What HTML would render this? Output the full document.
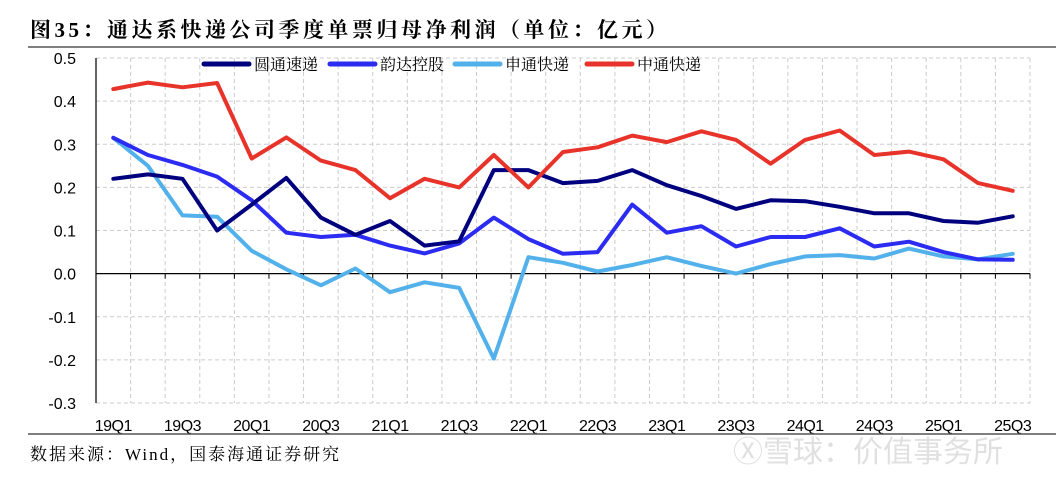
<!DOCTYPE html>
<html><head><meta charset="utf-8"><style>
body{margin:0;background:#fff;width:1056px;height:479px;overflow:hidden}
svg{display:block}
</style></head><body>
<svg id="chart" width="1056" height="479" xmlns="http://www.w3.org/2000/svg">
<text x="30" y="37" font-family="Liberation Serif, Noto Serif CJK SC, serif" font-size="21" font-weight="bold" letter-spacing="3.5" fill="#000">图35：通达系快递公司季度单票归母净利润（单位：亿元）</text>
<line x1="28" y1="47" x2="1056" y2="47" stroke="#555" stroke-width="1.5"/>
<g id="grid"></g>
<g id="axes"></g>
<g id="series"></g>
<g id="legend"></g>
<line x1="28" y1="434" x2="1056" y2="434" stroke="#555" stroke-width="1.5"/>
<text x="30" y="460" font-family="Liberation Serif, Noto Serif CJK SC, serif" font-size="17" letter-spacing="2" fill="#000">数据来源：Wind，国泰海通证券研究</text>
<text x="733" y="462" font-family="Liberation Sans, Noto Sans CJK SC, sans-serif" font-size="30" fill="#ddd" opacity="0.9">Ⓧ雪球：价值事务所</text>
</svg>
<script>
const categories=['19Q1','19Q2','19Q3','19Q4','20Q1','20Q2','20Q3','20Q4','21Q1','21Q2','21Q3','21Q4','22Q1','22Q2','22Q3','22Q4','23Q1','23Q2','23Q3','23Q4','24Q1','24Q2','24Q3','24Q4','25Q1','25Q2','25Q3'];
const yto=[0.22,0.23,0.22,0.10,0.16,0.222,0.13,0.09,0.122,0.065,0.075,0.24,0.24,0.21,0.215,0.24,0.205,0.18,0.15,0.17,0.168,0.155,0.14,0.14,0.122,0.118,0.133];
const yunda=[0.315,0.275,0.252,0.225,0.17,0.095,0.085,0.09,0.065,0.047,0.07,0.13,0.08,0.046,0.05,0.16,0.095,0.11,0.063,0.085,0.085,0.105,0.063,0.074,0.05,0.033,0.032];
const sto=[0.315,0.25,0.135,0.132,0.053,0.01,-0.027,0.012,-0.043,-0.02,-0.033,-0.197,0.038,0.025,0.005,0.02,0.038,0.018,0,0.022,0.04,0.043,0.035,0.058,0.04,0.033,0.046];
const zto=[0.428,0.443,0.432,0.442,0.267,0.316,0.262,0.24,0.175,0.22,0.2,0.275,0.2,0.282,0.293,0.32,0.305,0.33,0.31,0.255,0.31,0.332,0.275,0.283,0.265,0.21,0.192];
const yTicks=[0.5,0.4,0.3,0.2,0.1,0.0,-0.1,-0.2,-0.3];
const yTickLabels=['0.5','0.4','0.3','0.2','0.1','0.0','-0.1','-0.2','-0.3'];
const seriesNames=['圆通速递','韵达控股','申通快递','中通快递'];
const NS='http://www.w3.org/2000/svg';
const L=96,R=1030,T=58,B=403,yMin=-0.3,yMax=0.5;
const band=(R-L)/categories.length;
const x=i=>L+band*(i+0.5);
const y=v=>B-(v-yMin)/(yMax-yMin)*(B-T);
function mk(tag,attrs,parent){const e=document.createElementNS(NS,tag);for(const k in attrs)e.setAttribute(k,attrs[k]);parent.appendChild(e);return e;}
const grid=document.getElementById('grid'),axes=document.getElementById('axes'),ser=document.getElementById('series'),leg=document.getElementById('legend');
yTicks.forEach((v,i)=>{
  if(v!==0){const g=mk('line',{x1:L,x2:R,y1:y(v),y2:y(v),stroke:'#ccc','stroke-dasharray':'4,3'},grid);
  
  }
  const t=mk('text',{x:L-20,y:y(v)+6,'text-anchor':'end','font-family':'Liberation Sans, sans-serif','font-size':'16',fill:'#000'},axes);
  
  
  t.textContent=yTickLabels[i];
});
for(let i=1;i<=categories.length;i++){
  const xx=L+band*i;
  const g=mk('line',{x1:xx,x2:xx,y1:T,y2:B,stroke:'#ccc','stroke-dasharray':'4,3'},grid);
  
  
  const tk=mk('line',{x1:xx,x2:xx,y1:y(0),y2:y(0)+5,stroke:'#000','stroke-width':1},axes);
  
  
}
const ya=mk('line',{x1:L,x2:L,y1:T,y2:B,stroke:'#000','stroke-width':1.2},axes);


const xa=mk('line',{x1:L,x2:R,y1:y(0),y2:y(0),stroke:'#000','stroke-width':1.2},axes);


categories.forEach((c,i)=>{ if(i%2===0){
  const t=mk('text',{x:x(i),y:431,'text-anchor':'middle','font-family':'Liberation Sans, sans-serif','font-size':'16',fill:'#000','letter-spacing':'-0.5'},axes);
  
  
  t.textContent=c;}
});
const colors=['#00007f','#2b2bf2','#52b1ea','#e8332a'];
const data=[yto,yunda,sto,zto];
[2,1,0,3].forEach(s=>{
  const d=data[s].map((v,i)=>(i?'L':'M')+x(i).toFixed(1)+','+y(v).toFixed(1)).join('');
  const p=mk('path',{d:d,fill:'none',stroke:colors[s],'stroke-width':4,'stroke-linejoin':'round','stroke-linecap':'round'},ser);
  
  
});
const legX=[204,330,455,587];
seriesNames.forEach((n,i)=>{
  const l=mk('line',{x1:legX[i],x2:legX[i]+45,y1:64,y2:64,stroke:colors[i],'stroke-width':5,'stroke-linecap':'round'},leg);
  
  
  const t=mk('text',{x:legX[i]+50,y:70,'font-family':'Liberation Serif, Noto Serif CJK SC, serif','font-size':'16',fill:'#000'},leg);
  
  
  t.textContent=n;
});
</script>
</body></html>
